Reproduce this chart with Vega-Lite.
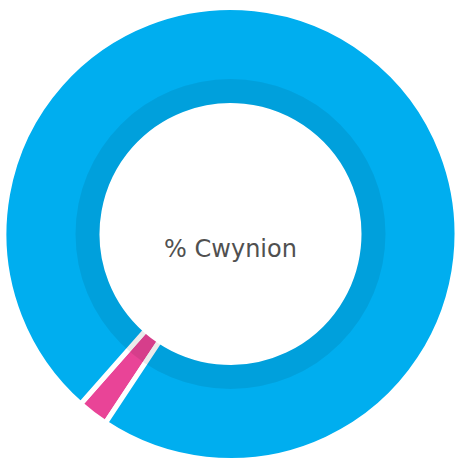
{
  "$schema": "https://vega.github.io/schema/vega-lite/v6.json",
  "width": 451,
  "height": 450,
  "autosize": {"type": "none"},
  "padding": {"left": 5, "top": 9, "right": 0, "bottom": 0},
  "background": "white",
  "config": {"view": {"stroke": null}},
  "layer": [
    {
      "data": {"values": [
        {"category": "Cwynion", "value": 2.2, "rank": 1},
        {"category": "Arall", "value": 97.8, "rank": 2}
      ]},
      "mark": {"type": "arc", "outerRadius": 226.5, "innerRadius": 128.5, "stroke": "white", "strokeWidth": 5},
      "encoding": {
        "theta": {"field": "value", "type": "quantitative", "stack": true, "scale": {"range": [3.726, 10.0092]}},
        "order": {"field": "rank", "type": "quantitative"},
        "color": {"field": "category", "type": "nominal", "legend": null,
          "scale": {"domain": ["Cwynion", "Arall"], "range": ["#E94497", "#00AEEF"]}}
      }
    },
    {
      "data": {"values": [{"ring": "shadow"}]},
      "mark": {"type": "arc", "theta": 0, "theta2": 6.2832, "outerRadius": 155, "innerRadius": 131, "fill": "black", "opacity": 0.08},
      "encoding": {}
    },
    {
      "data": {"values": [{"label": "% Cwynion"}]},
      "mark": {"type": "text", "font": "DejaVu Sans", "fontSize": 24, "color": "#505050", "baseline": "alphabetic", "align": "center", "dy": 23},
      "encoding": {"text": {"field": "label", "type": "nominal"}}
    }
  ]
}
